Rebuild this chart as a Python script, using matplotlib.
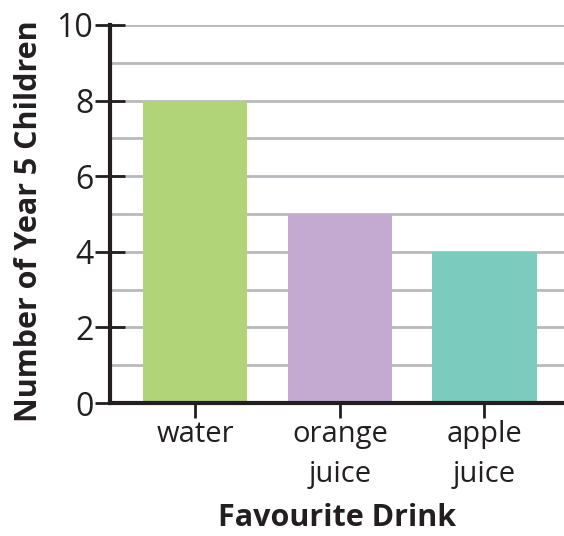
import matplotlib
matplotlib.use('Agg')
import matplotlib.pyplot as plt
import numpy as np

drinks = ['water', 'orange\njuice', 'apple\njuice']
children = [8, 5, 4]
colors = ['#b0d477', '#c4a9d1', '#7bccbe']
major_ticks = [0, 2, 4, 6, 8, 10]
minor_ticks = [1, 3, 5, 7, 9]

plt.rcParams['font.family'] = ['Open Sans', 'DejaVu Sans']
dark = '#231f20'

fig = plt.figure(figsize=(5.64, 5.36), dpi=100)
ax = fig.add_axes([110/564, (536-403)/536, (564-110)/564, (403-25)/536])

x = np.arange(len(drinks))
ax.bar(x, children, width=0.72, color=colors, zorder=2)

ax.set_xlim(-0.59, 2.55)
ax.set_ylim(0, 10)
ax.set_yticks(major_ticks)
ax.set_yticks(minor_ticks, minor=True)
ax.grid(axis='y', which='both', color='#b9b9bd', linewidth=2, zorder=0)
ax.set_axisbelow(True)

ax.set_xticks(x)
ax.set_xticklabels(drinks, fontsize=21, linespacing=1.5, color=dark)
ax.tick_params(axis='x', direction='inout', length=22, width=2, color=dark, pad=1)
ax.tick_params(axis='y', which='major', direction='inout', length=22, width=2,
               color=dark, labelsize=23, labelcolor=dark, pad=1)
ax.tick_params(axis='y', which='minor', length=0)
for lab in ax.get_xticklabels():
    lab.set_verticalalignment('top')

for s in ['top', 'right']:
    ax.spines[s].set_visible(False)
for s in ['left', 'bottom']:
    ax.spines[s].set_color(dark)
    ax.spines[s].set_linewidth(3)
    ax.spines[s].set_zorder(3)

ax.set_xlabel('Favourite Drink', fontsize=22, fontweight='bold', color=dark, labelpad=10)
ax.set_ylabel('Number of Year 5 Children', fontsize=22, fontweight='bold', color=dark)
ax.yaxis.set_label_coords(-0.145, 0.48)

fig.savefig('out.png', dpi=100)
